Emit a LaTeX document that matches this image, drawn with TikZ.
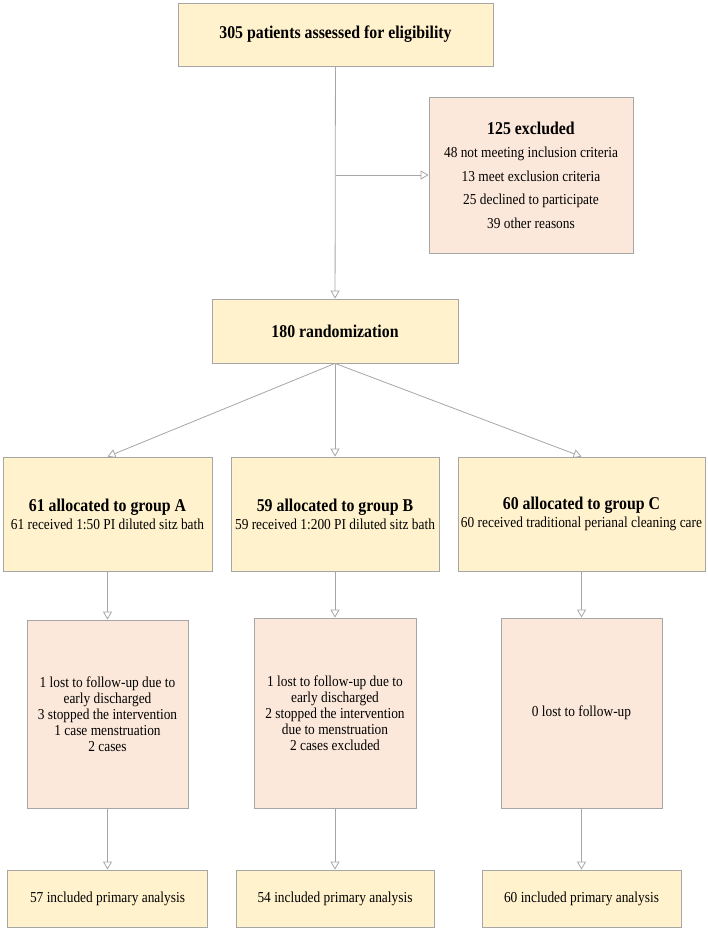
\documentclass[tikz,border=0pt]{standalone}
\usepackage{fontspec}
\setmainfont[FakeStretch=0.88]{Liberation Serif}
\usetikzlibrary{arrows.meta}
\definecolor{boxyellow}{HTML}{FFF2CC}
\definecolor{boxpeach}{HTML}{FCE8DA}
\definecolor{edgegray}{HTML}{A6A6A6}
\newcommand{\hdfont}{\bfseries\fontsize{18}{18}\selectfont}

\begin{document}
\begin{tikzpicture}[x=1pt, y=-1pt,
    ybox/.style={draw=edgegray, line width=0.8pt, fill=boxyellow, align=center, inner sep=2pt, font=\fontsize{15.2}{18}\selectfont},
    pbox/.style={draw=edgegray, line width=0.8pt, fill=boxpeach, align=center, inner sep=2pt, font=\fontsize{15.2}{16}\selectfont},
    arr/.style={-{Triangle[open, length=8pt, width=9pt]}, draw=edgegray, line width=0.8pt}
]
\useasboundingbox (0,0) rectangle (708,930);

\node[ybox, minimum width=315, minimum height=63] (elig) at (335.5,34.5) {\hdfont 305 patients assessed for eligibility};
\node[pbox, minimum width=204, minimum height=156, font=\fontsize{15.2}{23.5}\selectfont] (excl) at (531,175)
    {{\bfseries\fontsize{18}{23.5}\selectfont 125 excluded}\\48 not meeting inclusion criteria\\13 meet exclusion criteria\\25 declined to participate\\39 other reasons};
\node[ybox, minimum width=246, minimum height=64] (rand) at (335,331) {\hdfont 180 randomization};

\node[ybox, minimum width=209, minimum height=114] (alloA) at (107.5,514) {{\hdfont 61 allocated to group A}\\61 received 1:50 PI diluted sitz bath};
\node[ybox, minimum width=208, minimum height=114] (alloB) at (335,514) {{\hdfont 59 allocated to group B}\\59 received 1:200 PI diluted sitz bath};
\node[ybox, minimum width=247, minimum height=114] (alloC) at (581.5,514) {{\hdfont 60 allocated to group C}\\60 received traditional perianal cleaning care};

\node[pbox, minimum width=161, minimum height=188] (lossA) at (107.5,714) {1 lost to follow-up due to\\early discharged\\3 stopped the intervention\\1 case menstruation\\2 cases};
\node[pbox, minimum width=162, minimum height=190] (lossB) at (335,713) {1 lost to follow-up due to\\early discharged\\2 stopped the intervention\\due to menstruation\\2 cases excluded};
\node[pbox, minimum width=161, minimum height=190] (lossC) at (581.5,713) {0 lost to follow-up};

\node[ybox, minimum width=200, minimum height=57] (anaA) at (107.5,898.5) {57 included primary analysis};
\node[ybox, minimum width=198, minimum height=57] (anaB) at (335,898.5) {54 included primary analysis};
\node[ybox, minimum width=199, minimum height=57] (anaC) at (581.5,898.5) {60 included primary analysis};

\coordinate (split) at (elig.south |- excl.west);

\draw[arr] (elig) -- (rand);
\draw[arr] (split) -- (excl);
\draw[arr] (rand.south) -- (alloA.north);
\draw[arr] (rand) -- (alloB);
\draw[arr] (rand.south) -- (alloC.north);
\draw[arr] (alloA) -- (lossA);
\draw[arr] (alloB) -- (lossB);
\draw[arr] (alloC) -- (lossC);
\draw[arr] (lossA) -- (anaA);
\draw[arr] (lossB) -- (anaB);
\draw[arr] (lossC) -- (anaC);
\end{tikzpicture}
\end{document}
